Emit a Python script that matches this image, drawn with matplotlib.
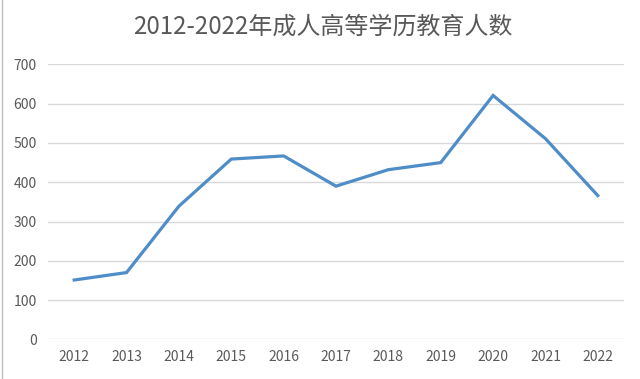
import matplotlib
matplotlib.use('Agg')
import matplotlib.pyplot as plt
from matplotlib.lines import Line2D

plt.rcParams['font.family'] = ['Noto Sans CJK SC', 'DejaVu Sans']

# data
years = ['2012', '2013', '2014', '2015', '2016', '2017',
         '2018', '2019', '2020', '2021', '2022']
students = [151, 170, 339, 459, 467, 390, 432, 450, 621, 511, 366]
y_ticks = [0, 100, 200, 300, 400, 500, 600, 700]

title = '2012-2022年成人高等学历教育人数'

fig = plt.figure(figsize=(6.4, 3.79), dpi=100)
ax = fig.add_axes([0.075, 0.1047, 0.9, 0.7253])

ax.plot(range(len(years)), students, color='#4F8DC9', linewidth=2.3,
        solid_joinstyle='miter', zorder=3)

ax.set_xlim(-0.5, len(years) - 0.5)
ax.set_ylim(0, 700)
ax.set_yticks(y_ticks)
ax.set_xticks(range(len(years)))
ax.set_xticklabels(years)

ax.grid(axis='y', color='#D9D9D9', linewidth=1.0)
ax.set_axisbelow(True)
for s in ax.spines.values():
    s.set_visible(False)
ax.tick_params(axis='both', length=0, colors='#595959', labelsize=10)
ax.tick_params(axis='y', pad=8)
ax.tick_params(axis='x', pad=8)

fig.text(0.505, 0.93, title, ha='center', va='center', fontsize=17.3,
         color='#595959')

# thin border on the left edge of the image
fig.add_artist(Line2D([0.003, 0.003], [0, 1], transform=fig.transFigure,
                      color='#BFBFBF', linewidth=1))

fig.savefig('out.png', dpi=100)
